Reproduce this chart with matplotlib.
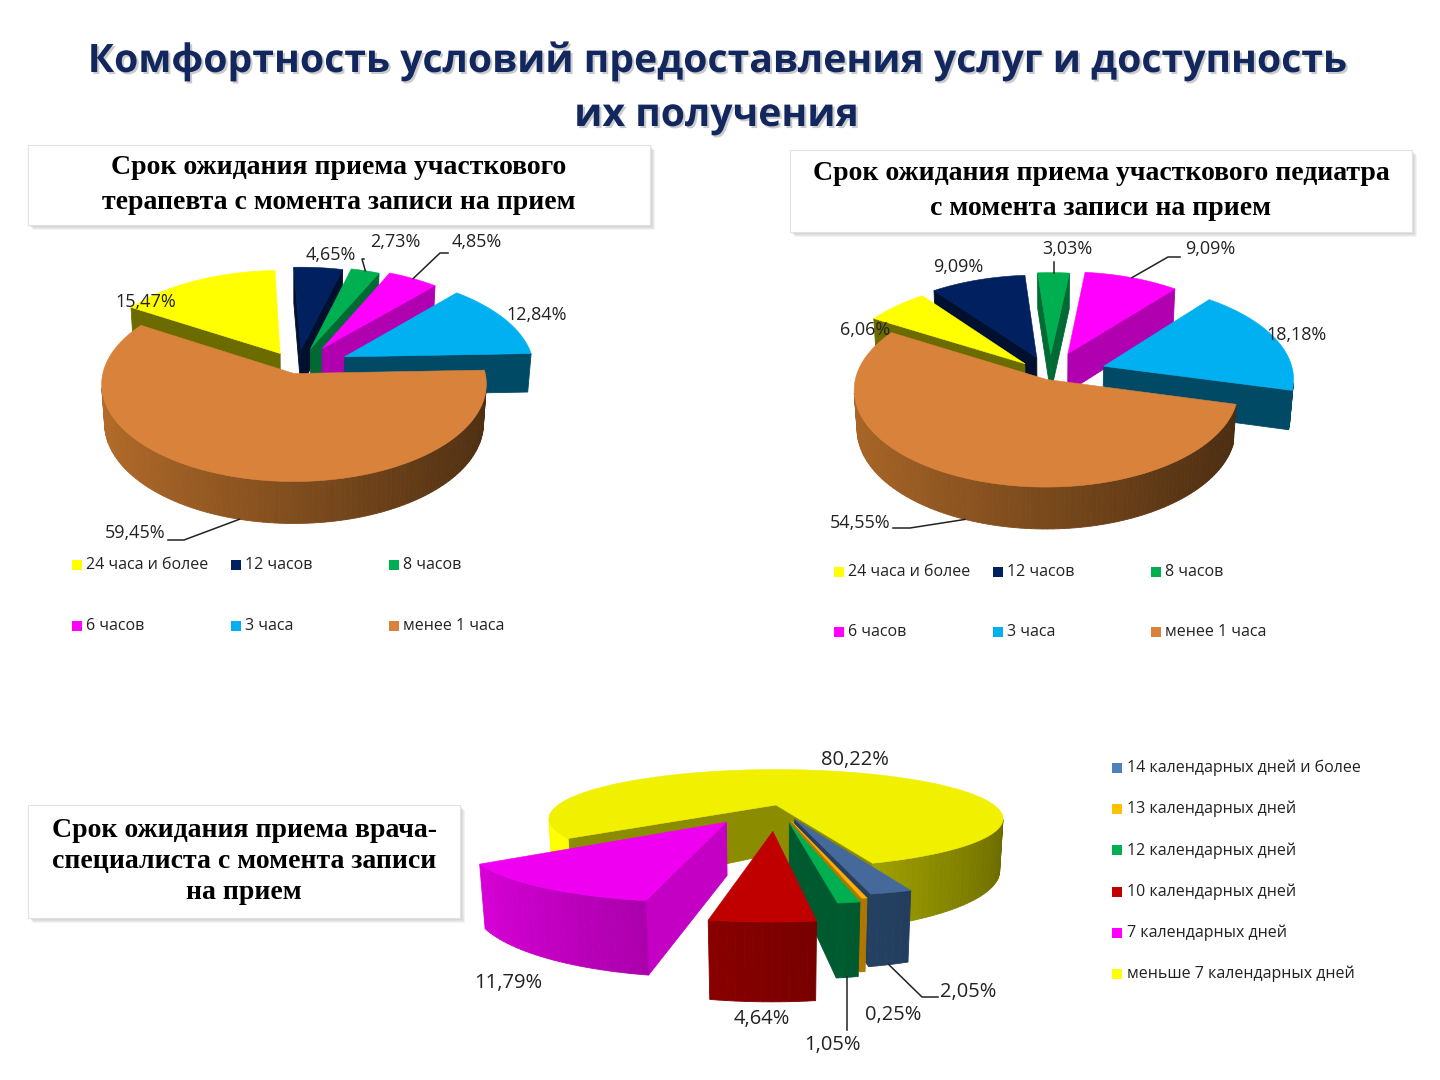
import numpy as np
import matplotlib.pyplot as plt
from matplotlib.patches import Polygon, Rectangle
from matplotlib.colors import to_rgb
import matplotlib.patheffects as pe

plt.rcParams['font.family'] = ['Open Sans', 'DejaVu Sans']

# ---- данные ----
hours_labels = ['24 часа и более', '12 часов', '8 часов', '6 часов', '3 часа', 'менее 1 часа']
ther_values = [15.47, 4.65, 2.73, 4.85, 12.84, 59.45]
ped_values = [6.06, 9.09, 3.03, 9.09, 18.18, 54.55]
spec_labels = ['14 календарных дней и более', '13 календарных дней', '12 календарных дней',
               '10 календарных дней', '7 календарных дней', 'меньше 7 календарных дней']
spec_values = [2.05, 0.25, 1.05, 4.64, 11.79, 80.22]

title = 'Комфортность условий предоставления услуг и доступность\nих получения'
ther_title = 'Срок ожидания приема участкового\nтерапевта с момента записи на прием'
ped_title = 'Срок ожидания приема участкового педиатра\nс момента записи на прием'
spec_title = 'Срок ожидания приема врача-\nспециалиста с момента записи\nна прием'

# ---- оформление ----
hours_top = ['#FFFF00', '#002060', '#00B050', '#FF00FF', '#00B0F0', '#D9823B']
hours_side = ['#6B6B00', '#00102E', '#006A34', '#B000B0', '#004A66', '#87511F']
spec_top = ['#46699C', '#FFB000', '#00B050', '#C00000', '#F000F0', '#F0F000']
spec_side = ['#243F60', '#B07800', '#005A30', '#800000', '#C400C4', '#8C8C00']
spec_legend = ['#4F81BD', '#FFC000', '#00B050', '#C00000', '#FF00FF', '#FFFF00']


def fmt(v):
    return ('%.2f%%' % v).replace('.', ',')


def shade(color, f):
    return tuple(np.clip(np.array(to_rgb(color)) * f, 0, 1))


def pie3d(ax, values, tops, sides, cx, cy, R, elev, dist, H, start, explode, light=0.4):
    """рисует объемную круговую диаграмму, возвращает функцию для точек привязки подписей"""
    e = np.radians(elev)
    se, ce = np.sin(e), np.cos(e)
    cam = np.array([0.0, -dist * ce, dist * se])

    def proj(p):
        p = np.atleast_2d(p)
        depth = dist + p[:, 1] * ce - p[:, 2] * se
        s = dist / depth
        return np.column_stack([cx + R * p[:, 0] * s, cy - R * (p[:, 1] * se + p[:, 2] * ce) * s])

    def lit(t):
        return 1 - light * np.cos(t)

    total = float(sum(values))
    angs = start - np.cumsum([0] + list(values)) / total * 360
    faces, top_faces, geo = [], [], []
    down = np.array([0, 0, H])
    for i in range(len(values)):
        hi, lo = angs[i], angs[i + 1]
        mid = np.radians((hi + lo) / 2)
        off = explode[i] * np.array([np.cos(mid), np.sin(mid), 0.0])
        geo.append((mid, off))
        m = max(3, int(abs(hi - lo) / 1.5) + 2)
        th = np.radians(np.linspace(lo, hi, m))
        rim = np.column_stack([np.cos(th), np.sin(th), np.zeros(m)]) + off
        low = rim - down
        # видимая часть боковой поверхности
        vis = [t for t in (th[:-1] + th[1:]) / 2 if np.sin(t) < 0.3]
        ref = np.mean(vis) if vis else mid
        for j in range(m - 1):
            quad = np.array([rim[j], rim[j + 1], low[j + 1], low[j]])
            tm = (th[j] + th[j + 1]) / 2
            nrm = np.array([np.cos(tm), np.sin(tm), 0])
            c = quad.mean(0)
            if nrm @ (cam - c) > 0:
                col = shade(sides[i], lit(tm) / lit(ref))
                faces.append((np.linalg.norm(cam - c), proj(quad), col))
        # радиальные грани
        for ang, sgn in ((th[-1], 1), (th[0], -1)):
            nrm = sgn * np.array([-np.sin(ang), np.cos(ang), 0])
            edge = off + np.array([np.cos(ang), np.sin(ang), 0])
            quad = np.array([off, edge, edge - down, off - down])
            c = quad.mean(0)
            if nrm @ (cam - c) > 0:
                faces.append((np.linalg.norm(cam - c), proj(quad), to_rgb(sides[i])))
        top = np.vstack([off, rim])
        top_faces.append((np.linalg.norm(cam - top.mean(0)), proj(top), to_rgb(tops[i])))

    for _, poly, col in sorted(faces, key=lambda f: -f[0]):
        ax.add_patch(Polygon(poly, closed=True, fc=col, ec=col, lw=0.6))
    for _, poly, col in sorted(top_faces, key=lambda f: -f[0]):
        ax.add_patch(Polygon(poly, closed=True, fc=col, ec=col, lw=0.4))

    def anchor(i):
        mid, off = geo[i]
        z = -H if np.sin(mid) < 0 else 0.0
        return proj(off + np.array([np.cos(mid), np.sin(mid), z]))[0]
    return anchor


def labels(ax, values, pos, anchor, leaders, size):
    for i, v in enumerate(values):
        ax.text(pos[i][0], pos[i][1], fmt(v), fontsize=size, ha='center', va='center', color='#222222')
        if leaders[i] is not None:
            sx, sy, dx = leaders[i]
            a = anchor(i)
            if dx is None:
                ax.plot([a[0], a[0]], [sy, a[1]], color='#222222', lw=1.1)
            else:
                ax.plot([sx, sx + dx, a[0]], [sy, sy, a[1]], color='#222222', lw=1.1)


def box(ax, x, y, w, h, text, size, ls=1.55):
    for k in range(5, 0, -1):
        ax.add_patch(Rectangle((x + k, y + k), w, h, fc='#808080', ec='none', alpha=0.09))
    ax.add_patch(Rectangle((x, y), w, h, fc='white', ec='#E2E2E2', lw=0.8))
    ax.text(x + w / 2, y + h / 2, text, fontsize=size, ha='center', va='center',
            family='Liberation Serif', weight='bold', linespacing=ls)


def legend_grid(ax, names, colors, xs, ys, size):
    for i, name in enumerate(names):
        x, y = xs[i % 3], ys[i // 3]
        ax.add_patch(Rectangle((x, y - 5), 10, 10, fc=colors[i], ec='none'))
        ax.text(x + 14, y, name, fontsize=size, va='center', ha='left', color='#222222')


fig = plt.figure(figsize=(14.4, 10.8), dpi=100)
ax = fig.add_axes([0, 0, 1, 1])
ax.set_xlim(0, 1440)
ax.set_ylim(1080, 0)
ax.axis('off')

ax.text(716, 88, title, fontsize=28.2, weight='bold', color='#13275F', ha='center', va='center',
        linespacing=1.5,
        path_effects=[pe.withSimplePatchShadow(offset=(1.5, -1.5), shadow_rgbFace='#7F7F7F', alpha=0.4)])

# ---- терапевт ----
box(ax, 28, 145, 622, 80, ther_title, 20)
a1 = pie3d(ax, ther_values, hours_top, hours_side, cx=297, cy=368, R=190, elev=30, dist=8, H=0.24,
           start=148, explode=[0.18, 0.2, 0.22, 0.25, 0.28, 0.06])
ther_pos = [(146, 302), (331, 255), (395, 242), (477, 242), (537, 315), (135, 533)]
ther_lead = [None, None, (364, 259, -2), (448, 253, -8), None, (168, 540, 16)]
labels(ax, ther_values, ther_pos, a1, ther_lead, 13)
legend_grid(ax, hours_labels, hours_top, [72, 231, 389], [565, 626], 11.5)

# ---- педиатр ----
box(ax, 790, 150, 622, 82, ped_title, 20)
a2 = pie3d(ax, ped_values, hours_top, hours_side, cx=1050, cy=375, R=190, elev=30, dist=8, H=0.24,
           start=149, explode=[0.18, 0.2, 0.22, 0.25, 0.3, 0.05])
ped_pos = [(865, 330), (958, 267), (1067, 249), (1210, 249), (1297, 335), (860, 523)]
ped_lead = [None, None, (1065, 262, None), (1180, 257, -12), None, (893, 528, 17)]
labels(ax, ped_values, ped_pos, a2, ped_lead, 13)
legend_grid(ax, hours_labels, hours_top, [834, 993, 1151], [572, 632], 11.5)

# ---- специалист ----
box(ax, 28, 805, 432, 113, spec_title, 20, ls=1.3)
a3 = pie3d(ax, spec_values, spec_top, spec_side, cx=776, cy=805, R=218, elev=12, dist=3.5, H=0.23,
           start=-71, explode=[0.3, 0.33, 0.36, 0.5, 0.4, 0.0], light=0.45)
spec_pos = [(968, 992), (893, 1015), (832, 1045), (762, 1019), (508, 983), (855, 760)]
spec_lead = [(938, 997, -16), None, (835, 1030, None), None, None, None]
labels(ax, spec_values, spec_pos, a3, spec_lead, 14.5)
for i, name in enumerate(spec_labels):
    y = 768 + i * 41.2
    ax.add_patch(Rectangle((1112, y - 5), 10, 10, fc=spec_legend[i], ec='none'))
    ax.text(1127, y, name, fontsize=11.5, va='center', ha='left', color='#222222')

fig.savefig('out.png', dpi=100, facecolor='white')
